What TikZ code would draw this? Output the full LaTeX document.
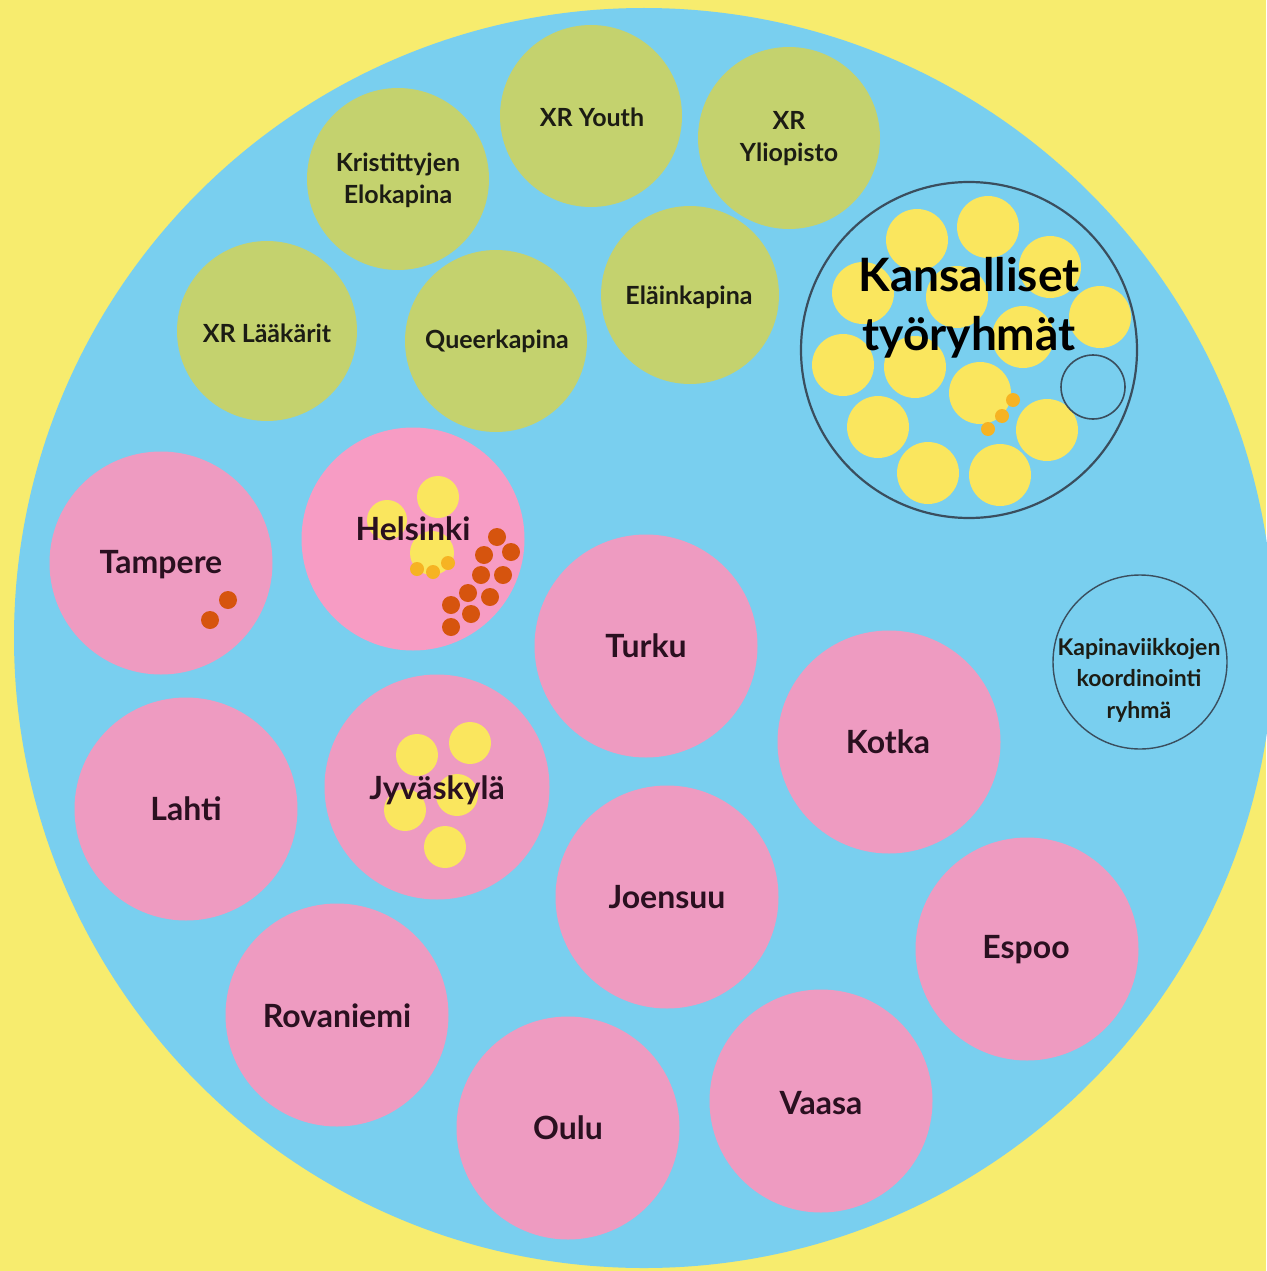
\documentclass[tikz,border=0pt]{standalone}
\usepackage{fontspec}
\setmainfont{Lato}
\definecolor{bgyellow}{HTML}{F7EC6E}
\definecolor{skyblue}{HTML}{79CFEF}
\definecolor{olive}{HTML}{C4D26E}
\definecolor{cityp}{HTML}{EE9BC1}
\definecolor{help}{HTML}{F79CC4}
\definecolor{dotyel}{HTML}{FAE65E}
\definecolor{dotorange}{HTML}{D6540E}
\definecolor{dotlight}{HTML}{F6B323}
\definecolor{ringc}{HTML}{3A4E5E}
\definecolor{txtdark}{HTML}{1C1C14}
\definecolor{txtcity}{HTML}{2A1020}
\begin{document}
\begin{tikzpicture}[x=1pt,y=-1pt,
  disc/.style={circle,inner sep=0pt,minimum size=#1},
  greenc/.style={disc=182pt,fill=olive},
  cityc/.style={disc=223pt,fill=cityp},
  yel/.style={disc=#1,fill=dotyel},
  org/.style={disc=18pt,fill=dotorange},
  lorg/.style={disc=14pt,fill=dotlight},
  gtxt/.style={font=\fontsize{25}{32}\selectfont\bfseries,text=txtdark,align=center,inner sep=0pt},
  ctxt/.style={font=\fontsize{32}{38}\selectfont\bfseries,text=txtcity,align=center,inner sep=0pt}
]
\fill[bgyellow] (0,0) rectangle (1266,1271);
\useasboundingbox (0,0) rectangle (1266,1271);
\node[disc=1260pt,fill=skyblue] (world) at (644,638) {};

% green groups
\node[greenc] (youth) at (591,116) {};
\node[greenc] (yliop) at (789,138) {};
\node[greenc,minimum size=178pt] (elain) at (690,295) {};
\node[greenc] (krist) at (398,179) {};
\node[greenc,minimum size=180pt] (laak) at (267,331) {};
\node[greenc] (queer) at (496,341) {};
\node[gtxt] (tyouth) at (592,117) {XR Youth};
\node[gtxt] (tyliop) at (789,139) {XR\\Yliopisto};
\node[gtxt] (telain) at (689,297) {Eläinkapina};
\node[gtxt] (tkrist) at (398,180) {Kristittyjen\\Elokapina};
\node[gtxt] (tlaak) at (267,333) {XR Lääkärit};
\node[gtxt] (tqueer) at (497,341) {Queerkapina};

% Kansalliset tyoryhmat
\node[disc=336pt,draw=ringc,line width=2.2pt] (kans) at (969,350) {};
\foreach \x/\y [count=\i] in {917/240,988/227,1050/267,863/293,957/297,1023/337,1100/317,843/365,915/367,980/393,878/427,1047/430,928/473,1000/475}
  \node[yel=62pt] (ky\i) at (\x,\y) {};
\node[disc=64pt,draw=ringc,line width=1.6pt] (kring) at (1093,387) {};
\node[lorg] (kl1) at (1013,400) {};
\node[lorg] (kl2) at (1002,416) {};
\node[lorg] (kl3) at (988,429) {};
\node[font=\fontsize{46}{59}\selectfont\bfseries,text=black,align=center,inner sep=0pt] (tkans) at (969,308) {Kansalliset\\työryhmät};

% Kapinaviikkojen
\node[disc=174pt,draw=ringc,line width=1.4pt] (kapina) at (1140,662) {};
\node[font=\fontsize{23}{31.5}\selectfont\bfseries,text=txtdark,align=center,inner sep=0pt] (tkapina) at (1139,680) {Kapinaviikkojen\\koordinointi\\ryhmä};

% cities
\node[cityc] (tampere) at (161,563) {};
\node[org] (tao1) at (228,600) {};
\node[org] (tao2) at (210,620) {};
\node[ctxt] (ttampere) at (161,565) {Tampere};

\node[cityc,fill=help] (helsinki) at (413,539) {};
\node[yel=42pt] (hy1) at (438,497) {};
\node[yel=40pt] (hy2) at (387,520) {};
\node[yel=44pt] (hy3) at (432,553) {};
\node[lorg] (hl1) at (417,569) {};
\node[lorg] (hl2) at (433,572) {};
\node[lorg] (hl3) at (448,563) {};
\foreach \x/\y [count=\i] in {497/537,511/552,484/555,481/575,503/575,468/593,490/597,451/605,471/614,451/627}
  \node[org] (ho\i) at (\x,\y) {};
\node[ctxt] (thelsinki) at (413,529) {Helsinki};

\node[cityc] (turku) at (646,646) {};
\node[ctxt] (tturku) at (646,646) {Turku};
\node[cityc] (kotka) at (889,742) {};
\node[ctxt] (tkotka) at (888,742) {Kotka};
\node[cityc] (espoo) at (1027,949) {};
\node[ctxt] (tespoo) at (1026,950) {Espoo};
\node[cityc] (vaasa) at (821,1101) {};
\node[ctxt] (tvaasa) at (821,1103) {Vaasa};
\node[cityc] (oulu) at (568,1128) {};
\node[ctxt] (toulu) at (568,1128) {Oulu};
\node[cityc] (rova) at (337,1015) {};
\node[ctxt] (trova) at (337,1016) {Rovaniemi};
\node[cityc] (joensuu) at (667,897) {};
\node[ctxt] (tjoensuu) at (667,897) {Joensuu};
\node[cityc] (lahti) at (186,809) {};
\node[ctxt] (tlahti) at (186,809) {Lahti};

\node[cityc,minimum size=225pt] (jyva) at (437,787) {};
\foreach \x/\y [count=\i] in {417/755,470/743,405/810,457/795,445/847}
  \node[yel=42pt] (jy\i) at (\x,\y) {};
\node[ctxt] (tjyva) at (437,790) {Jyväskylä};
\end{tikzpicture}
\end{document}
